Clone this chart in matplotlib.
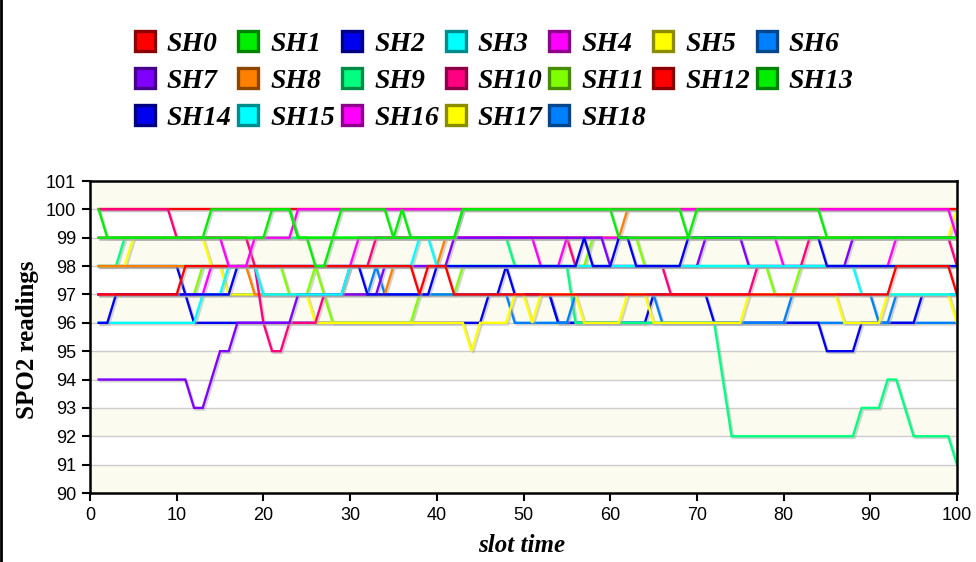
import matplotlib
matplotlib.use('Agg')
import matplotlib.pyplot as plt
import matplotlib.patheffects as pe
from matplotlib.lines import Line2D
from matplotlib.colors import to_rgb
from matplotlib.font_manager import FontProperties

# slot time 1..100
slot = list(range(1, 101))

# SPO2 readings per sensor (10 values per row)
sh0 = [97, 97, 97, 97, 97, 97, 97, 97, 97, 97,
       98, 98, 98, 98, 98, 98, 98, 98, 98, 98,
       98, 98, 98, 98, 98, 98, 98, 98, 98, 98,
       98, 98, 98, 98, 98, 98, 98, 97, 98, 98,
       98, 97, 97, 97, 97, 97, 97, 97, 97, 97,
       97, 97, 97, 97, 97, 97, 97, 97, 97, 97,
       97, 97, 97, 97, 97, 97, 97, 97, 97, 97,
       97, 97, 97, 97, 97, 97, 97, 97, 97, 97,
       97, 97, 97, 97, 97, 97, 97, 97, 97, 97,
       97, 97, 98, 98, 98, 98, 98, 98, 98, 97]
sh1 = [100, 99, 99, 99, 99, 99, 99, 99, 99, 99,
       99, 99, 99, 100, 100, 100, 100, 100, 100, 100,
       100, 100, 100, 99, 99, 98, 98, 99, 100, 100,
       100, 100, 100, 100, 99, 100, 99, 99, 99, 99,
       99, 99, 100, 100, 100, 100, 100, 100, 100, 100,
       100, 100, 100, 100, 100, 100, 100, 100, 100, 100,
       99, 99, 99, 99, 99, 99, 99, 99, 99, 99,
       99, 99, 99, 99, 99, 99, 99, 99, 99, 99,
       99, 99, 99, 99, 99, 99, 99, 99, 99, 99,
       99, 99, 99, 99, 99, 99, 99, 99, 99, 99]
sh2 = [98, 98, 98, 98, 98, 98, 98, 98, 98, 98,
       97, 96, 96, 96, 96, 96, 96, 96, 96, 96,
       96, 96, 96, 96, 96, 96, 96, 96, 96, 96,
       96, 96, 96, 96, 96, 96, 96, 96, 96, 96,
       96, 96, 96, 96, 96, 97, 97, 98, 97, 97,
       97, 97, 97, 96, 96, 96, 96, 96, 96, 96,
       96, 96, 96, 96, 97, 97, 97, 97, 97, 97,
       97, 96, 96, 96, 96, 96, 96, 96, 96, 96,
       96, 96, 96, 96, 95, 95, 95, 95, 96, 96,
       96, 96, 96, 96, 96, 97, 97, 97, 97, 97]
sh3 = [96, 96, 96, 96, 96, 96, 96, 96, 96, 96,
       96, 96, 97, 97, 97, 98, 98, 98, 98, 97,
       97, 97, 97, 97, 97, 97, 97, 97, 97, 98,
       98, 98, 98, 98, 98, 98, 98, 99, 99, 98,
       98, 98, 98, 98, 98, 98, 98, 98, 98, 98,
       98, 98, 98, 98, 98, 98, 98, 98, 98, 98,
       98, 98, 98, 98, 98, 98, 98, 98, 98, 98,
       98, 98, 98, 98, 98, 98, 98, 98, 98, 98,
       98, 98, 98, 98, 98, 98, 98, 98, 97, 97,
       97, 97, 97, 97, 97, 97, 97, 97, 97, 97]
sh4 = [97, 97, 97, 97, 97, 97, 97, 97, 97, 97,
       97, 97, 97, 98, 98, 98, 98, 98, 98, 98,
       98, 98, 98, 98, 98, 98, 98, 98, 98, 98,
       99, 99, 99, 99, 99, 99, 99, 99, 99, 99,
       99, 99, 99, 99, 99, 99, 99, 99, 99, 99,
       99, 98, 98, 98, 99, 99, 99, 99, 99, 99,
       99, 99, 99, 99, 99, 99, 99, 99, 99, 99,
       99, 99, 99, 99, 99, 99, 99, 99, 99, 98,
       98, 98, 98, 98, 98, 98, 98, 98, 98, 98,
       98, 98, 99, 99, 99, 99, 99, 99, 99, 99]
sh5 = [99, 99, 99, 99, 99, 99, 99, 99, 99, 99,
       99, 99, 99, 99, 99, 99, 99, 99, 99, 99,
       99, 99, 99, 99, 99, 99, 99, 99, 99, 99,
       99, 99, 99, 99, 99, 99, 99, 99, 99, 99,
       99, 99, 99, 99, 99, 99, 99, 99, 99, 99,
       99, 99, 99, 99, 99, 99, 99, 99, 99, 99,
       99, 99, 99, 99, 99, 99, 99, 99, 99, 99,
       99, 99, 99, 99, 99, 99, 99, 99, 99, 99,
       99, 99, 99, 99, 99, 99, 99, 99, 99, 99,
       99, 99, 99, 99, 99, 99, 99, 99, 99, 100]
sh6 = [97, 97, 97, 97, 97, 97, 97, 97, 97, 97,
       97, 97, 97, 97, 97, 97, 97, 97, 97, 97,
       97, 97, 97, 97, 97, 97, 97, 97, 97, 97,
       97, 97, 98, 97, 97, 97, 97, 97, 97, 97,
       97, 97, 97, 97, 97, 97, 97, 97, 96, 96,
       96, 96, 96, 96, 96, 97, 97, 97, 97, 97,
       97, 97, 97, 97, 97, 96, 96, 96, 96, 96,
       96, 96, 96, 96, 96, 96, 96, 96, 96, 96,
       97, 97, 97, 97, 97, 97, 97, 97, 97, 97,
       96, 96, 97, 97, 97, 97, 97, 97, 97, 97]
sh7 = [94, 94, 94, 94, 94, 94, 94, 94, 94, 94,
       94, 93, 93, 94, 95, 95, 96, 96, 96, 96,
       96, 96, 96, 97, 97, 97, 97, 97, 97, 97,
       97, 97, 97, 98, 98, 98, 98, 98, 98, 98,
       98, 99, 99, 99, 99, 99, 99, 99, 99, 99,
       99, 99, 99, 99, 99, 99, 99, 99, 99, 98,
       98, 98, 98, 98, 98, 98, 98, 98, 98, 98,
       99, 99, 99, 99, 99, 98, 98, 98, 98, 98,
       98, 98, 98, 98, 98, 98, 98, 99, 99, 99,
       99, 99, 99, 99, 99, 99, 99, 99, 99, 99]
sh8 = [98, 98, 98, 98, 98, 98, 98, 98, 98, 98,
       98, 98, 98, 98, 98, 98, 98, 98, 97, 97,
       97, 97, 97, 97, 97, 97, 97, 97, 97, 97,
       97, 97, 97, 97, 98, 98, 98, 98, 98, 98,
       99, 99, 99, 99, 99, 99, 99, 99, 99, 99,
       99, 99, 99, 99, 99, 99, 99, 99, 99, 99,
       99, 100, 100, 100, 100, 100, 100, 100, 100, 100,
       100, 100, 100, 100, 100, 100, 100, 100, 100, 100,
       100, 100, 100, 100, 100, 100, 100, 100, 100, 100,
       100, 100, 100, 100, 100, 100, 100, 100, 100, 100]
sh9 = [98, 98, 98, 99, 99, 99, 99, 99, 99, 99,
       99, 99, 99, 99, 99, 99, 99, 99, 99, 99,
       99, 99, 99, 99, 99, 99, 99, 99, 99, 99,
       99, 99, 99, 99, 99, 99, 99, 99, 99, 99,
       99, 99, 99, 99, 99, 99, 99, 99, 98, 98,
       98, 98, 98, 98, 98, 96, 96, 96, 96, 96,
       96, 96, 96, 96, 96, 96, 96, 96, 96, 96,
       96, 96, 94, 92, 92, 92, 92, 92, 92, 92,
       92, 92, 92, 92, 92, 92, 92, 92, 93, 93,
       93, 94, 94, 93, 92, 92, 92, 92, 92, 91]
sh10 = [100, 100, 100, 100, 100, 100, 100, 100, 100, 99,
        99, 99, 99, 99, 99, 99, 99, 99, 98, 96,
        95, 95, 96, 96, 96, 96, 97, 97, 97, 98,
        98, 98, 99, 99, 99, 99, 99, 99, 99, 99,
        99, 99, 99, 99, 99, 99, 99, 99, 99, 99,
        99, 99, 99, 99, 99, 98, 98, 98, 98, 98,
        98, 98, 98, 98, 98, 98, 97, 97, 97, 97,
        97, 97, 97, 97, 97, 97, 98, 98, 98, 98,
        98, 98, 99, 99, 99, 99, 99, 99, 99, 99,
        99, 99, 99, 99, 99, 99, 99, 99, 99, 98]
sh11 = [97, 97, 97, 97, 97, 97, 97, 97, 97, 97,
        97, 97, 98, 98, 98, 98, 98, 98, 98, 98,
        98, 98, 97, 97, 97, 98, 97, 96, 96, 96,
        96, 96, 96, 96, 96, 96, 96, 97, 97, 97,
        97, 97, 98, 98, 98, 98, 98, 98, 98, 98,
        98, 98, 98, 98, 98, 98, 98, 99, 99, 99,
        99, 99, 99, 98, 98, 98, 98, 98, 98, 98,
        98, 98, 98, 98, 98, 98, 98, 98, 97, 97,
        97, 98, 98, 98, 98, 98, 98, 98, 98, 98,
        98, 98, 98, 98, 98, 98, 98, 98, 98, 98]
sh12 = [100, 100, 100, 100, 100, 100, 100, 100, 100, 100,
        100, 100, 100, 100, 100, 100, 100, 100, 100, 100,
        100, 100, 100, 100, 100, 100, 100, 100, 100, 100,
        100, 100, 100, 100, 100, 100, 100, 100, 100, 100,
        100, 100, 100, 100, 100, 100, 100, 100, 100, 100,
        100, 100, 100, 100, 100, 100, 100, 100, 100, 100,
        100, 100, 100, 100, 100, 100, 100, 100, 100, 100,
        100, 100, 100, 100, 100, 100, 100, 100, 100, 100,
        100, 100, 100, 100, 100, 100, 100, 100, 100, 100,
        100, 100, 100, 100, 100, 100, 100, 100, 100, 100]
sh13 = [99, 99, 99, 99, 99, 99, 99, 99, 99, 99,
        99, 99, 99, 99, 99, 99, 99, 99, 99, 99,
        100, 100, 100, 99, 99, 99, 99, 99, 99, 99,
        99, 99, 99, 99, 99, 99, 99, 99, 99, 99,
        99, 99, 100, 100, 100, 100, 100, 100, 100, 100,
        100, 100, 100, 100, 100, 100, 100, 100, 100, 100,
        100, 100, 100, 100, 100, 100, 100, 100, 99, 100,
        100, 100, 100, 100, 100, 100, 100, 100, 100, 100,
        100, 100, 100, 100, 99, 99, 99, 99, 99, 99,
        99, 99, 99, 99, 99, 99, 99, 99, 99, 99]
sh14 = [96, 96, 97, 97, 97, 97, 97, 97, 97, 97,
        97, 97, 97, 97, 97, 97, 98, 98, 98, 98,
        98, 98, 98, 98, 98, 98, 98, 98, 98, 98,
        98, 97, 97, 97, 97, 97, 97, 97, 97, 98,
        98, 98, 98, 98, 98, 98, 98, 98, 98, 98,
        98, 98, 98, 98, 98, 98, 99, 98, 98, 98,
        99, 99, 98, 98, 98, 98, 98, 98, 99, 99,
        99, 99, 99, 99, 99, 99, 99, 99, 99, 99,
        99, 99, 99, 99, 98, 98, 98, 98, 98, 98,
        98, 98, 98, 98, 98, 98, 98, 98, 98, 98]
sh15 = [98, 98, 98, 98, 98, 98, 98, 98, 98, 98,
        98, 98, 98, 98, 98, 98, 98, 98, 98, 98,
        98, 98, 98, 98, 98, 98, 98, 98, 98, 98,
        98, 98, 98, 98, 98, 98, 98, 98, 98, 98,
        98, 98, 98, 98, 98, 98, 98, 98, 98, 98,
        98, 98, 98, 98, 98, 98, 98, 98, 98, 98,
        98, 98, 98, 98, 98, 98, 98, 98, 98, 98,
        98, 98, 98, 98, 98, 98, 98, 98, 98, 98,
        98, 98, 98, 98, 98, 98, 98, 98, 98, 98,
        98, 98, 98, 98, 98, 98, 98, 98, 98, 98]
sh16 = [99, 99, 99, 99, 99, 99, 99, 99, 99, 99,
        99, 99, 99, 99, 99, 98, 98, 98, 99, 99,
        99, 99, 99, 100, 100, 100, 100, 100, 100, 100,
        100, 100, 100, 100, 100, 100, 100, 100, 100, 100,
        100, 100, 100, 100, 100, 100, 100, 100, 100, 100,
        100, 100, 100, 100, 100, 100, 100, 100, 100, 100,
        100, 100, 100, 100, 100, 100, 100, 100, 100, 100,
        100, 100, 100, 100, 100, 100, 100, 100, 100, 100,
        100, 100, 100, 100, 100, 100, 100, 100, 100, 100,
        100, 100, 100, 100, 100, 100, 100, 100, 100, 99]
sh17 = [98, 98, 98, 98, 99, 99, 99, 99, 99, 99,
        99, 99, 99, 98, 98, 97, 97, 97, 97, 97,
        97, 97, 97, 97, 97, 96, 96, 96, 96, 96,
        96, 96, 96, 96, 96, 96, 96, 96, 96, 96,
        96, 96, 96, 95, 96, 96, 96, 96, 97, 97,
        96, 97, 97, 97, 97, 97, 96, 96, 96, 96,
        96, 97, 97, 97, 96, 96, 96, 96, 96, 96,
        96, 96, 96, 96, 96, 97, 97, 97, 97, 97,
        97, 97, 97, 97, 97, 97, 96, 96, 96, 96,
        96, 97, 97, 97, 97, 97, 97, 97, 97, 96]
sh18 = [97, 97, 97, 97, 97, 97, 97, 97, 97, 97,
        97, 97, 97, 97, 97, 97, 97, 97, 97, 97,
        97, 97, 97, 97, 97, 97, 97, 97, 97, 97,
        97, 97, 97, 97, 97, 97, 97, 97, 97, 97,
        97, 97, 97, 97, 97, 97, 97, 97, 97, 97,
        97, 97, 97, 96, 96, 96, 96, 96, 96, 96,
        96, 96, 96, 96, 96, 96, 96, 96, 96, 96,
        96, 96, 96, 96, 96, 96, 96, 96, 96, 96,
        96, 96, 96, 96, 96, 96, 96, 96, 96, 96,
        96, 96, 96, 96, 96, 96, 96, 96, 96, 96]

series = [sh0, sh1, sh2, sh3, sh4, sh5, sh6, sh7, sh8, sh9,
          sh10, sh11, sh12, sh13, sh14, sh15, sh16, sh17, sh18]
names = ['SH%d' % i for i in range(19)]

palette = ['#ff0000', '#00ee00', '#0000ee', '#00ffff', '#ff00ff', '#ffff00',
           '#0080ff', '#8000ff', '#ff8000', '#00ff80', '#ff0080', '#80ff00']
colors = [palette[i % 12] for i in range(19)]

# which line sits on top of which (first = bottom)
draw_order = [18, 5, 15, 2, 9, 11, 6, 17, 8, 12, 10, 4, 7, 3, 14, 0, 16, 1, 13]

serif_bold = dict(family='Liberation Serif', weight='bold')

fig = plt.figure(figsize=(9.76, 5.62), dpi=100)
ax = fig.add_axes([90 / 976, 69 / 562, 867 / 976, 312 / 562])

# alternating background bands and grid
for lo in range(90, 101, 2):
    ax.axhspan(lo, lo + 1, color='#fbfbf0', lw=0, zorder=0)
for v in range(91, 101):
    ax.axhline(v, color='#cccccc', lw=1.0, zorder=0.5)

shadow = [pe.SimpleLineShadow(offset=(1.2, -1.2), shadow_color='#aaaaaa', alpha=0.5),
          pe.Normal()]
for z, i in enumerate(draw_order):
    ax.plot(slot, series[i], color=colors[i], lw=1.7, zorder=2 + z * 0.01,
            path_effects=shadow, solid_joinstyle='miter')

ax.set_xlim(0, 100)
ax.set_ylim(90, 101)
ax.set_xticks(range(0, 101, 10))
ax.set_yticks(range(90, 102))
for s in ax.spines.values():
    s.set_linewidth(1.8)
    s.set_color('black')
ax.tick_params(direction='out', length=6, width=1.5, labelsize=13, pad=4)
for lab in ax.get_xticklabels() + ax.get_yticklabels():
    lab.set_fontfamily('Liberation Sans')

fig.text(28 / 976, 1 - 340 / 562, 'SPO2 readings', rotation=90, ha='center',
         va='center', fontsize=18, **serif_bold)
fig.text(522 / 976, 1 - 546 / 562, 'slot time', ha='center', va='center',
         fontsize=18, style='italic', **serif_bold)


def darker(c, f=0.55):
    r, g, b = to_rgb(c)
    return (r * f, g * f, b * f)


handles = [Line2D([], [], ls='none', marker='s', markersize=15,
                  markerfacecolor=colors[i], markeredgecolor=darker(colors[i]),
                  markeredgewidth=2.4) for i in range(19)]
# legend is filled column by column, so reorder to read row by row
leg_order = [0, 7, 14, 1, 8, 15, 2, 9, 16, 3, 10, 17, 4, 11, 18, 5, 12, 6, 13]
fig.legend([handles[i] for i in leg_order], [names[i] for i in leg_order],
           ncol=7, loc='center', bbox_to_anchor=(0.505, 1 - 81 / 562), frameon=False,
           prop=FontProperties(family='Liberation Serif', weight='bold', style='italic', size=20),
           handlelength=0.9, handletextpad=0.35, columnspacing=0.15, labelspacing=0.42,
           borderpad=0.2)

# outer frame of the figure
fig.add_artist(Line2D([0.001, 0.001], [0, 1], transform=fig.transFigure, color='black', lw=2))

fig.savefig('out.png', dpi=100)
